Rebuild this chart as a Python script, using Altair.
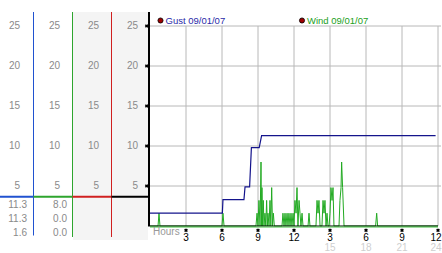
import altair as alt
import pandas as pd

# ---------------- data ----------------
series_names = ["Gust", "Wind"]
date_label = "09/01/07"

gust_hours = [0.0, 6.03, 6.08, 7.83, 7.92, 8.3, 8.45, 9.1, 9.3, 23.8]
gust_vals = [1.6, 1.6, 3.3, 3.3, 4.9, 4.9, 9.8, 9.8, 11.3, 11.3]

wind_hours = [
    0.0, 0.67, 0.75, 0.83,
    6.0, 6.08, 6.17,
    8.83, 8.92, 9.0, 9.08, 9.17, 9.25, 9.29, 9.33, 9.38, 9.44, 9.5, 9.58, 9.65,
    9.72, 9.78, 9.83, 9.92, 10.0, 10.07, 10.14, 10.21, 10.28, 10.36,
    11.0, 11.08, 11.17, 11.25, 11.33, 11.42, 11.5, 11.58, 11.67, 11.75, 11.83,
    11.92, 12.0, 12.08, 12.17, 12.25, 12.33, 12.42, 12.5, 12.58, 12.67, 12.75,
    13.17, 13.25, 13.33,
    13.83, 13.92, 14.0, 14.08, 14.17,
    14.33, 14.42, 14.5, 14.58, 14.67, 14.75, 14.83,
    14.92, 15.0, 15.08, 15.17, 15.25, 15.33,
    15.75, 15.83, 15.92, 15.97, 16.05, 16.17,
    18.8, 18.89, 18.97,
    24.0,
]
wind_vals = [
    0, 0, 1.6, 0,
    0, 1.6, 0,
    0, 1.6, 0, 3.2, 0, 8.0, 0, 4.8, 0, 3.2, 0, 1.6, 0,
    3.2, 0, 1.6, 0, 3.2, 0, 4.8, 0, 1.6, 0,
    0, 1.6, 0, 1.6, 0, 1.6, 0, 1.6, 0, 1.6, 0,
    1.6, 0, 3.2, 1.6, 4.8, 0, 3.2, 1.6, 0, 1.6, 0,
    0, 1.6, 0,
    0, 3.2, 1.6, 3.2, 0,
    0, 3.2, 1.6, 3.2, 0, 1.6, 0,
    0, 1.6, 4.8, 3.2, 4.8, 0,
    0, 3.2, 4.8, 8.0, 4.8, 0,
    0, 1.6, 0,
    0,
]

y_ticks = [5, 10, 15, 20, 25]
x_ticks = [3, 6, 9, 12, 15, 18, 21, 24]
x_labels = ["3", "6", "9", "12", "3", "6", "9", "12"]
x_labels_24 = ["", "", "", "", "15", "18", "21", "24"]
gust_stats = [11.3, 11.3, 1.6]
wind_stats = [8.0, 0.0, 0.0]

# ---------------- layout ----------------
W, H = 288, 214
LEFT, TOP = 150, 12
FONT = "Liberation Sans"
BLUE, GREEN, RED = "#2052d0", "#2ea52e", "#d02020"

gust_df = pd.DataFrame({"h": gust_hours, "v": gust_vals})
wind_df = pd.DataFrame({"h": wind_hours, "v": wind_vals})
yt_df = pd.DataFrame({"v": y_ticks})
xt_df = pd.DataFrame({"h": x_ticks, "lab": x_labels, "lab24": x_labels_24,
                      "top": [max(y_ticks)] * len(x_ticks), "bot": [0] * len(x_ticks)})
xt_mid = xt_df.iloc[:-1]
xt_end = xt_df.iloc[-1:]
base_df = pd.DataFrame({"h0": [0], "h1": [24], "v": [0]})
one = pd.DataFrame({"k": [0]})

xs = alt.Scale(domain=[0, 24], nice=False, zero=False)
ys = alt.Scale(domain=[0, 26.75], nice=False, zero=False)


def ax(px):
    return alt.value(px - LEFT)


def ay(py):
    return alt.value(py - TOP)


def vrule(px, y1, y2, color, w=1.0):
    return alt.Chart(one).mark_rule(color=color, strokeWidth=w).encode(
        x=ax(px), y=ay(y1), y2=ay(y2))


def hrule(py, x1, x2, color, w=1.0):
    return alt.Chart(one).mark_rule(color=color, strokeWidth=w).encode(
        y=ay(py), x=ax(x1), x2=ax(x2))


layers = []

# light gray background of columns 3 & 4
layers.append(alt.Chart(one).mark_rect(color="#f4f4f4").encode(
    x=ax(73), x2=ax(148), y=ay(12), y2=ay(240)))

# gridlines
layers.append(alt.Chart(yt_df).mark_rule(color="#b8b8b8", strokeWidth=1).encode(
    y=alt.Y("v:Q", scale=ys, axis=None), x=alt.value(0), x2=alt.value(W + 3)))
layers.append(alt.Chart(xt_df).mark_rule(color="#b8b8b8", strokeWidth=1).encode(
    x=alt.X("h:Q", scale=xs, axis=None),
    y=alt.Y("top:Q", scale=ys, axis=None), y2="bot:Q"))

# left column scales
for right_px in [20, 60, 99, 138]:
    layers.append(alt.Chart(yt_df).mark_text(
        align="right", baseline="middle", fontSize=10, font=FONT, color="#8a8a8a"
    ).encode(x=ax(right_px), y=alt.Y("v:Q", scale=ys, axis=None), text="v:Q"))

# stats
for right_px, stats in [(27, gust_stats), (67, wind_stats)]:
    for i, s in enumerate(stats):
        layers.append(alt.Chart(one).mark_text(
            align="right", baseline="middle", fontSize=10, font=FONT, color="#8a8a8a"
        ).encode(x=ax(right_px), y=ay(205 + 13.8 * i), text=alt.value(f"{s:.1f}")))

# column lines
layers.append(vrule(33.5, 12, 235.5, BLUE))
layers.append(vrule(72.5, 12, 237, GREEN))
layers.append(vrule(111.5, 12, 237, RED))
layers.append(vrule(149, 12, 226.5, "black", 2))

# colored divider
layers.append(hrule(196.7, 0, 33.5, BLUE, 2))
layers.append(hrule(196.7, 33.5, 72.5, GREEN, 2))
layers.append(hrule(196.7, 72.5, 111.5, RED, 2))
layers.append(hrule(196.7, 111.5, 149, "black", 2))

# data lines
layers.append(alt.Chart(wind_df).mark_line(color="#22aa22", strokeWidth=1).encode(
    x=alt.X("h:Q", scale=xs, axis=None), y=alt.Y("v:Q", scale=ys, axis=None)))
layers.append(alt.Chart(gust_df).mark_line(color="#14148c", strokeWidth=1.2).encode(
    x=alt.X("h:Q", scale=xs, axis=None), y=alt.Y("v:Q", scale=ys, axis=None)))

# baseline
layers.append(alt.Chart(base_df).mark_rule(color="black", strokeWidth=1).encode(
    x=alt.X("h0:Q", scale=xs, axis=None), x2="h1:Q",
    y=alt.Y("v:Q", scale=ys, axis=None)))
layers.append(hrule(TOP + H + 1, LEFT, LEFT + W, "#44c044"))

# tick markers
layers.append(alt.Chart(yt_df).mark_point(
    shape="cross", angle=45, size=14, filled=True, color="black", opacity=1
).encode(x=ax(146.7), y=alt.Y("v:Q", scale=ys, axis=None)))
layers.append(alt.Chart(xt_df).mark_point(
    shape="cross", angle=45, size=14, filled=True, color="black", opacity=1
).encode(x=alt.X("h:Q", scale=xs, axis=None), y=ay(230.3)))

# x labels
for dfp, align, dx in [(xt_mid, "center", 0), (xt_end, "right", 3.5)]:
    layers.append(alt.Chart(dfp).mark_text(
        align=align, baseline="middle", fontSize=10, font=FONT, color="black", dx=dx
    ).encode(x=alt.X("h:Q", scale=xs, axis=None), y=ay(238.2), text="lab:N"))
    layers.append(alt.Chart(dfp).mark_text(
        align=align, baseline="middle", fontSize=10, font=FONT, color="#cfcfcf", dx=dx
    ).encode(x=alt.X("h:Q", scale=xs, axis=None), y=ay(248.4), text="lab24:N"))
layers.append(alt.Chart(one).mark_text(
    align="left", baseline="middle", fontSize=10, font=FONT, color="#999999"
).encode(x=ax(153), y=ay(231.5), text=alt.value("Hours")))

# legend
for dot_x, name, col in [(160.5, series_names[0], "#2a2aa8"),
                         (302, series_names[1], "#22a022")]:
    layers.append(alt.Chart(one).mark_point(
        shape="circle", size=26, filled=True, fill="#a00000", stroke="black",
        strokeWidth=0.8, opacity=1
    ).encode(x=ax(dot_x), y=ay(20.5)))
    layers.append(alt.Chart(one).mark_text(
        align="left", baseline="middle", fontSize=9.5, font=FONT, color=col
    ).encode(x=ax(dot_x + 5), y=ay(20.8), text=alt.value(f"{name} {date_label}")))

chart = alt.layer(*layers).properties(
    width=W, height=H,
    padding={"left": LEFT, "top": TOP, "right": 442 - LEFT - W, "bottom": 253 - TOP - H},
    autosize=alt.AutoSizeParams(type="none"),
    background="white",
).configure_view(strokeWidth=0)

chart.save("out.html", embed_options={"renderer": "svg", "actions": False})
